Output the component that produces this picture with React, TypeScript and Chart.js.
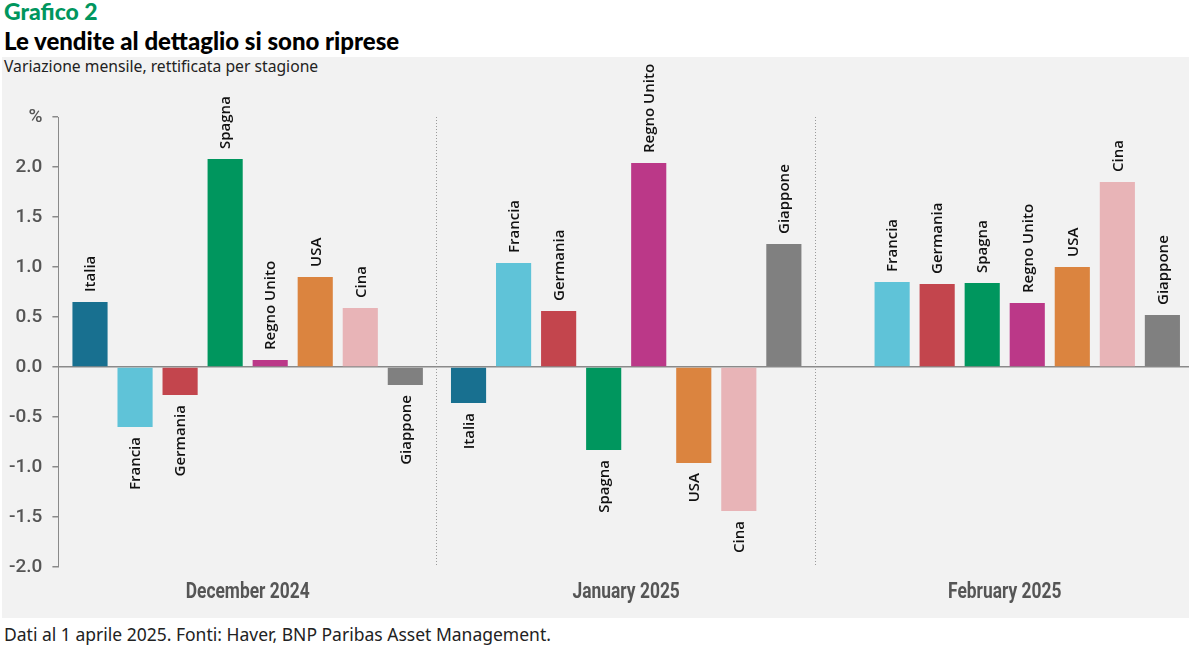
import { useEffect, useRef } from "react";
import { Chart, registerables } from "chart.js";

Chart.register(...registerables);

const MONTHS = ["December 2024", "January 2025", "February 2025"];
const COUNTRIES = ["Italia", "Francia", "Germania", "Spagna", "Regno Unito", "USA", "Cina", "Giappone"];

// variazione mensile % per paese, un valore per mese
const ITALIA = [0.65, -0.36, null];
const FRANCIA = [-0.6, 1.04, 0.85];
const GERMANIA = [-0.28, 0.56, 0.83];
const SPAGNA = [2.08, -0.83, 0.84];
const REGNO_UNITO = [0.07, 2.04, 0.64];
const USA = [0.9, -0.96, 1.0];
const CINA = [0.59, -1.44, 1.85];
const GIAPPONE = [-0.18, 1.23, 0.52];

const SERIES = [ITALIA, FRANCIA, GERMANIA, SPAGNA, REGNO_UNITO, USA, CINA, GIAPPONE];
const COLORS = ["#187090", "#5fc3d8", "#c3454d", "#00965e", "#bb3888", "#db843f", "#e8b4b7", "#808080"];

const Y_TICKS = [-2, -1.5, -1, -0.5, 0, 0.5, 1, 1.5, 2, 2.5];

const barLabels = {
  id: "barLabels",
  afterDatasetsDraw(chart: Chart) {
    const ctx = chart.ctx;
    ctx.save();
    ctx.font = "600 15px 'Open Sans'";
    ctx.fillStyle = "#111";
    ctx.textBaseline = "middle";
    chart.data.datasets.forEach((ds, i) => {
      const meta = chart.getDatasetMeta(i);
      meta.data.forEach((el: any, j: number) => {
        const v = ds.data[j] as number | null;
        if (v === null || v === undefined) return;
        const pos = v >= 0;
        ctx.save();
        ctx.translate(el.x, pos ? el.y - 10 : el.y + 10);
        ctx.rotate(-Math.PI / 2);
        ctx.textAlign = pos ? "left" : "right";
        ctx.fillText(ds.label as string, 0, 1);
        ctx.restore();
      });
    });
    ctx.restore();
  },
};

// month names under the groups, drawn a bit narrower like the original condensed face
const monthLabels = {
  id: "monthLabels",
  afterDraw(chart: Chart) {
    const ctx = chart.ctx;
    const xs: any = chart.scales.x;
    ctx.save();
    ctx.font = "bold 22px Roboto";
    ctx.fillStyle = "#555";
    ctx.textAlign = "center";
    ctx.textBaseline = "middle";
    MONTHS.forEach((m, i) => {
      ctx.save();
      ctx.translate(xs.getPixelForTick(i), chart.chartArea.bottom + 25);
      ctx.scale(0.79, 1);
      ctx.fillText(m, 0, 0);
      ctx.restore();
    });
    ctx.restore();
  },
};

function RetailChart() {
  const canvasRef = useRef<HTMLCanvasElement>(null);
  const chartRef = useRef<Chart | null>(null);

  useEffect(() => {
    if (!canvasRef.current) return;
    const context = canvasRef.current.getContext("2d");
    if (!context) return;
    if (chartRef.current) chartRef.current.destroy();

    chartRef.current = new Chart(context, {
      type: "bar",
      data: {
        labels: MONTHS,
        datasets: COUNTRIES.map((name, i) => ({
          label: name,
          data: SERIES[i],
          backgroundColor: COLORS[i],
          categoryPercentage: 0.952,
          barPercentage: 0.78,
        })),
      },
      options: {
        animation: false,
        responsive: false,
        layout: { padding: { left: 0, right: 6, top: 60, bottom: 0 } },
        plugins: { legend: { display: false }, tooltip: { enabled: false } },
        scales: {
          x: {
            grid: { color: "#9a9a9a", lineWidth: 1, drawTicks: false, offset: true },
            border: { display: false, dash: [1, 2] },
            ticks: { display: false },
            afterFit(scale: any) {
              scale.height = 51;
            },
          },
          y: {
            min: -2,
            max: 2.5,
            afterBuildTicks(scale: any) {
              scale.ticks = Y_TICKS.map((value) => ({ value }));
            },
            grid: {
              color: (c: any) => (c.tick && c.tick.value === 0 ? "#8a8a8a" : "transparent"),
              tickColor: "#8a8a8a",
              tickLength: 6,
              lineWidth: 1.5,
            },
            border: { color: "#8a8a8a", width: 1 },
            ticks: {
              padding: 10,
              color: "#555",
              font: { family: "Roboto", size: 19, weight: 500 },
              callback: (v: any) => (Number(v) === 2.5 ? "%" : Number(v).toFixed(1)),
            },
            afterFit(scale: any) {
              scale.width = 58.4;
            },
          },
        },
      },
      plugins: [barLabels, monthLabels],
    });

    return () => {
      chartRef.current?.destroy();
      chartRef.current = null;
    };
  }, []);

  return (
    <canvas
      ref={canvasRef}
      width={1200}
      height={561}
      style={{ position: "absolute", left: 0, top: 57, width: 1200, height: 561 }}
    />
  );
}

export default function App() {
  return (
    <div
      style={{
        position: "absolute",
        left: 0,
        top: 0,
        width: 1189,
        height: 647,
        overflow: "hidden",
        background: "#fff",
        fontFamily: "'Noto Sans', sans-serif",
      }}
    >
      <div style={{ position: "absolute", left: 4, top: -3, fontFamily: "Lato", fontWeight: 900, fontSize: 23, color: "#00965e" }}>
        Grafico 2
      </div>
      <div style={{ position: "absolute", left: 4, top: 26, fontFamily: "Lato", fontWeight: 900, fontSize: 24, color: "#000" }}>
        Le vendite al dettaglio si sono riprese
      </div>
      <div style={{ position: "absolute", left: 2, top: 57, width: 1187, height: 561, background: "#f2f2f2" }} />
      <div style={{ position: "absolute", left: 4, top: 56, fontSize: 15.7, color: "#222", lineHeight: "20px" }}>
        Variazione mensile, rettificata per stagione
      </div>
      <RetailChart />
      <div style={{ position: "absolute", left: 4, top: 622, fontSize: 17.5, color: "#222", lineHeight: "24px" }}>
        Dati al 1 aprile 2025. Fonti: Haver, BNP Paribas Asset Management.
      </div>
    </div>
  );
}
